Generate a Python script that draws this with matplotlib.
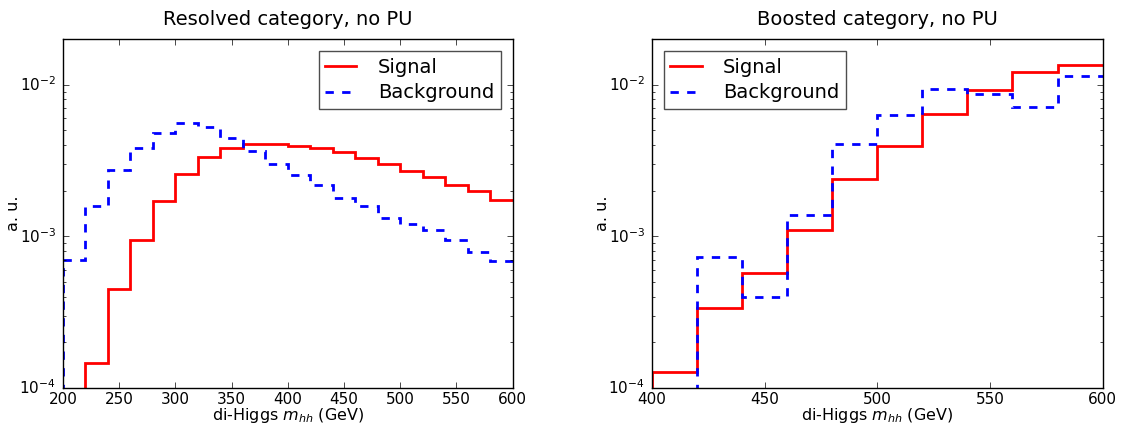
import numpy as np
import matplotlib
matplotlib.use("Agg")
import matplotlib.pyplot as plt

plt.style.use("classic")
plt.rcParams["figure.facecolor"] = "white"
plt.rcParams["savefig.facecolor"] = "white"
plt.rcParams["font.family"] = ["DejaVu Sans"]
plt.rcParams["mathtext.fontset"] = "dejavusans"

# Bin edges (GeV)
edges_res = np.arange(200, 601, 20)
edges_boo = np.arange(400, 601, 20)

# Resolved category
sig_res = [5e-5, 1.46e-4, 4.47e-4, 9.5e-4, 1.71e-3, 2.59e-3, 3.33e-3, 3.84e-3, 4.08e-3, 4.06e-3,
           3.92e-3, 3.80e-3, 3.58e-3, 3.28e-3, 3.0e-3, 2.68e-3, 2.46e-3, 2.19e-3, 1.98e-3, 1.75e-3]
bkg_res = [7.02e-4, 1.59e-3, 2.72e-3, 3.84e-3, 4.80e-3, 5.56e-3, 5.26e-3, 4.45e-3, 3.65e-3, 3.0e-3,
           2.54e-3, 2.18e-3, 1.80e-3, 1.58e-3, 1.32e-3, 1.20e-3, 1.10e-3, 9.4e-4, 7.88e-4, 6.84e-4]

# Boosted category
sig_boo = [1.27e-4, 3.37e-4, 5.73e-4, 1.11e-3, 2.39e-3, 3.94e-3, 6.37e-3, 9.22e-3, 1.21e-2, 1.35e-2]
bkg_boo = [5e-5, 7.31e-4, 4.0e-4, 1.39e-3, 4.04e-3, 6.34e-3, 9.36e-3, 8.72e-3, 7.12e-3, 1.15e-2]

titles = ["Resolved category, no PU", "Boosted category, no PU"]
xlabel = "di-Higgs $m_{hh}$ (GeV)"
ylabel = "a. u."

fig = plt.figure(figsize=(11.24, 4.25), dpi=100)
ax1 = fig.add_axes([0.056, 0.087, 0.400, 0.821])
ax2 = fig.add_axes([0.580, 0.087, 0.401, 0.821])

panels = [(ax1, edges_res, sig_res, bkg_res, "upper right", titles[0]),
          (ax2, edges_boo, sig_boo, bkg_boo, "upper left", titles[1])]

floor = 1e-7
for ax, edges, sig, bkg, loc, title in panels:
    for vals, col, ls, lab in [(sig, "red", "-", "Signal"), (bkg, "blue", "--", "Background")]:
        ax.stairs(vals, edges, baseline=None, color=col, lw=2, ls=ls, label=lab)
        # rising edge of the first bin (histogram starts from the bottom)
        ax.vlines(edges[0], floor, vals[0], color=col, lw=2, linestyles=ls)
    ax.set_yscale("log")
    ax.set_ylim(1e-4, 2e-2)
    ax.set_xlim(edges[0], edges[-1])
    ax.set_xticks(np.arange(edges[0], edges[-1] + 1, 50))
    ax.set_title(title, fontsize=14, pad=10)
    ax.set_xlabel(xlabel, fontsize=11.5, labelpad=-1)
    ax.set_ylabel(ylabel, fontsize=11.5, labelpad=-1)
    ax.tick_params(labelsize=11, pad=3)
    ax.tick_params(axis="y", pad=5)
    leg = ax.legend(loc=loc, fontsize=14, frameon=True, fancybox=False,
                    handlelength=1.6, handletextpad=1.1, borderpad=0.35,
                    labelspacing=0.35, borderaxespad=0.6)
    leg.get_frame().set_edgecolor("0.3")

fig.savefig("out.png", dpi=100)
